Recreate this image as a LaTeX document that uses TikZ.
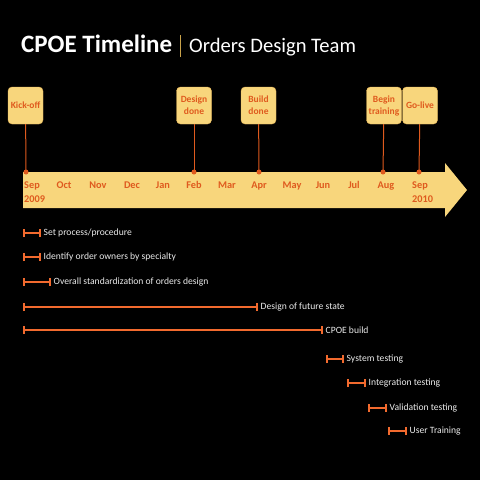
\documentclass[tikz,border=0pt]{standalone}
\usepackage{fontspec}
\setmainfont{Carlito}
\usetikzlibrary{arrows.meta}
\definecolor{band}{HTML}{F8D67C}
\definecolor{bandedge}{HTML}{E9B85A}
\definecolor{tlorange}{HTML}{DF5A1E}
\definecolor{bar}{HTML}{F26A2E}
\definecolor{gold}{HTML}{C9A24A}
\newcommand{\fsz}[1]{\fontsize{#1}{#1}\selectfont}

\begin{document}
\begin{tikzpicture}[x=1pt,y=-1pt,
   mile/.style={draw=bandedge,fill=band,rounded corners=4pt,minimum width=35pt,
     minimum height=37pt,align=center,inner sep=1pt,text=tlorange,
     font=\fontsize{9.5}{12}\selectfont\bfseries},
   month/.style={text=tlorange,font=\fsz{10.3}\bfseries,anchor=base,inner sep=0pt},
   stem/.style={draw=tlorange,line width=1pt},
   task/.style={draw=bar,line width=2pt,{Bar[width=8pt]}-{Bar[width=8pt]}},
   tasklbl/.style={text=white!92!black,font=\fsz{9.6},anchor=west,inner sep=2.5pt}]
   \fill[black] (0,0) rectangle (480,480);
   \useasboundingbox (0,0) rectangle (480,480);
   % title
   \node[anchor=base west,inner sep=0pt,text=white,font=\fsz{25}\bfseries] (ttl) at (21,52) {CPOE Timeline};
   \draw[gold,line width=1pt] (180,35) -- (180,57);
   \node[anchor=base west,inner sep=0pt,text=white,font=\fsz{20.6}] (team) at (189,52) {Orders Design Team};
   % timeline band
   \fill[band] (23,172) -- (445,172) -- (445,163) -- (467,190) -- (445,217) -- (445,208) -- (23,208) -- cycle;
   \node[month,anchor=base west] (sep9) at (24,188) {Sep};
   \node[month,anchor=base west] (y2009) at (24,202) {2009};
   \node[month] (oct) at (64,188) {Oct};
   \node[month] (nov) at (98,188) {Nov};
   \node[month] (dec) at (132,188) {Dec};
   \node[month] (jan) at (163,188) {Jan};
   \node[month] (feb) at (194,188) {Feb};
   \node[month] (mar) at (227,188) {Mar};
   \node[month] (apr) at (259,188) {Apr};
   \node[month] (may) at (292,188) {May};
   \node[month] (jun) at (323,188) {Jun};
   \node[month] (jul) at (354,188) {Jul};
   \node[month] (aug) at (386,188) {Aug};
   \node[month,anchor=base west] (sep10) at (412,188) {Sep};
   \node[month,anchor=base west] (y2010) at (412,202) {2010};
   % milestones
   \node[mile] (kickoff) at (25.5,105.5) {Kick-off};
   \node[mile] (desdone) at (194,105.5) {Design\\done};
   \node[mile] (blddone) at (258.5,105.5) {Build\\done};
   \node[mile] (begtrain) at (384,105.5) {Begin\\training};
   \node[mile] (golive) at (420,105.5) {Go-live};
   \coordinate (kickoffpt) at (26,172);
   \coordinate (desdonept) at (194,172);
   \coordinate (blddonept) at (259,172);
   \coordinate (begtrainpt) at (383,172);
   \coordinate (golivept) at (419,172);
   \draw[stem] (kickoff) -- (kickoffpt);
   \draw[stem] (desdone) -- (desdonept);
   \draw[stem] (blddone) -- (blddonept);
   \draw[stem] (begtrain) -- (begtrainpt);
   \draw[stem] (golive) -- (golivept);
   \fill[tlorange] (kickoffpt) circle (2.5);
   \fill[tlorange] (desdonept) circle (2.5);
   \fill[tlorange] (blddonept) circle (2.5);
   \fill[tlorange] (begtrainpt) circle (2.5);
   \fill[tlorange] (golivept) circle (2.5);
   % tasks
   \coordinate (setproc0) at (23,233);
   \node[tasklbl] (setproc) at (41,233) {Set process/procedure};
   \draw[task] (setproc0) -- (setproc.west);
   \coordinate (owners0) at (23,257);
   \node[tasklbl] (owners) at (41,257) {Identify order owners by specialty};
   \draw[task] (owners0) -- (owners.west);
   \coordinate (stdz0) at (23,282);
   \node[tasklbl] (stdz) at (51,282) {Overall standardization of orders design};
   \draw[task] (stdz0) -- (stdz.west);
   \coordinate (future0) at (23,307);
   \node[tasklbl] (future) at (258,307) {Design of future state};
   \draw[task] (future0) -- (future.west);
   \coordinate (build0) at (23,330);
   \node[tasklbl] (build) at (323,330) {CPOE build};
   \draw[task] (build0) -- (build.west);
   \coordinate (systest0) at (326,359);
   \node[tasklbl] (systest) at (344,359) {System testing};
   \draw[task] (systest0) -- (systest.west);
   \coordinate (inttest0) at (347,383);
   \node[tasklbl] (inttest) at (366,383) {Integration testing};
   \draw[task] (inttest0) -- (inttest.west);
   \coordinate (valtest0) at (368,408);
   \node[tasklbl] (valtest) at (387,408) {Validation testing};
   \draw[task] (valtest0) -- (valtest.west);
   \coordinate (usertr0) at (388,431);
   \node[tasklbl] (usertr) at (407,431) {User Training};
   \draw[task] (usertr0) -- (usertr.west);
\end{tikzpicture}
\end{document}
